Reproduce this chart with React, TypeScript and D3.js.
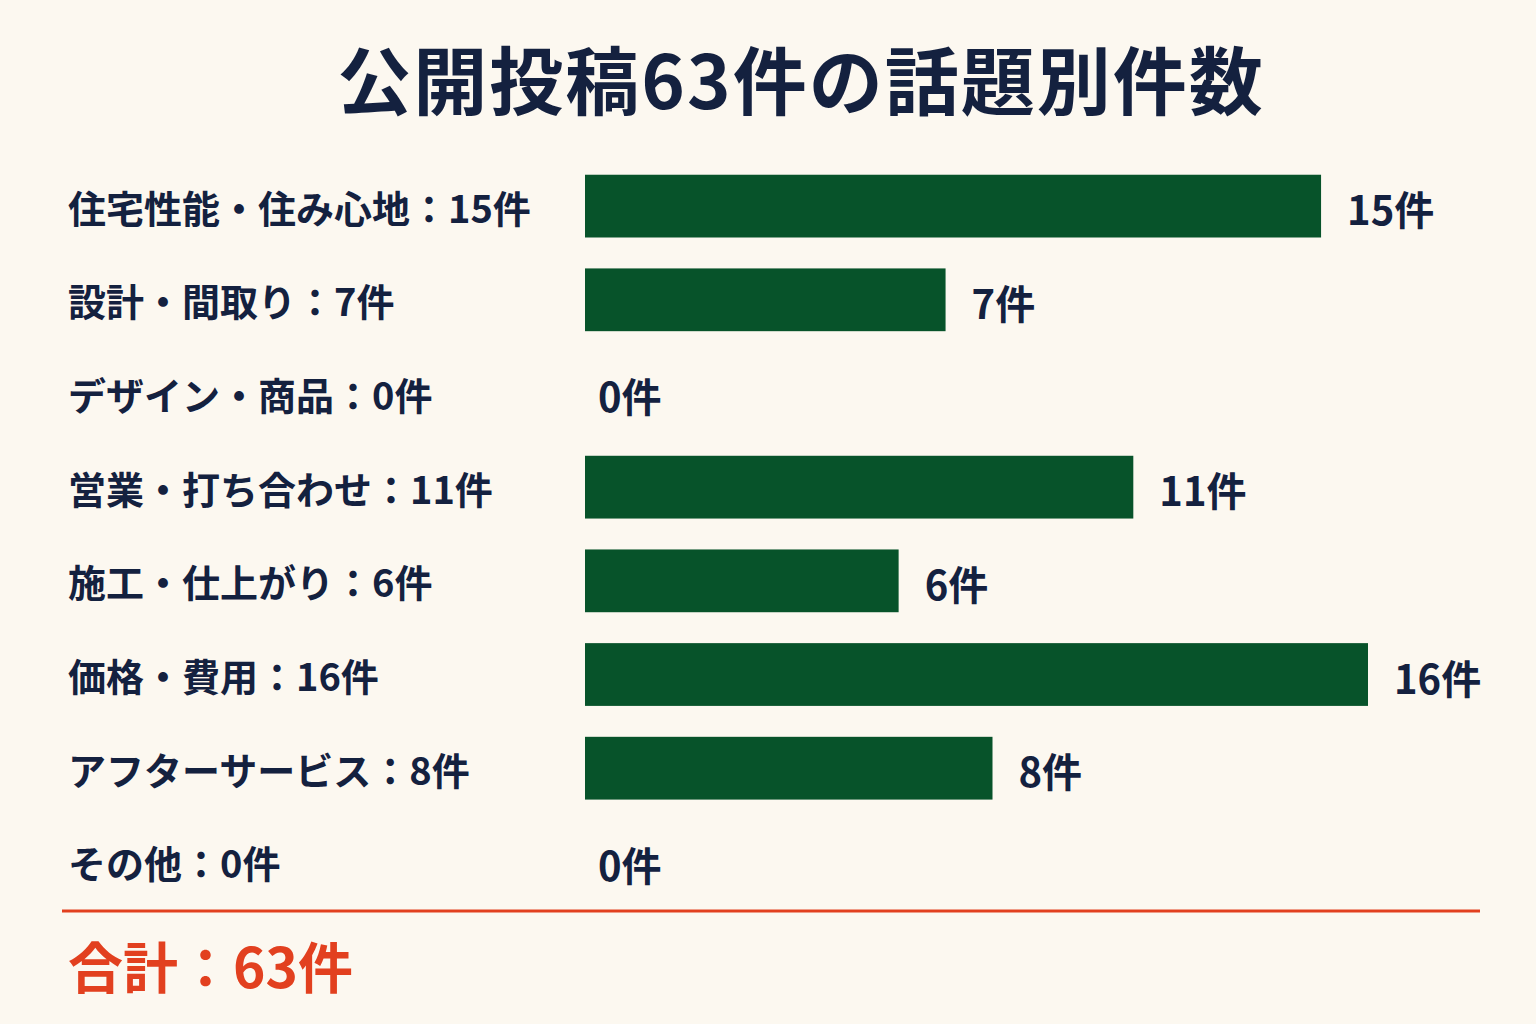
import React from "react";
import * as d3 from "d3";

const categories = [
  "住宅性能・住み心地",
  "設計・間取り",
  "デザイン・商品",
  "営業・打ち合わせ",
  "施工・仕上がり",
  "価格・費用",
  "アフターサービス",
  "その他",
];
const counts = [15, 7, 0, 11, 6, 16, 8, 0];
const titleText = "公開投稿63件の話題別件数";
const totalLabel = "合計：63件";

const W = 1536;
const H = 1024;
const NAVY = "#14213f";
const GREEN = "#07532a";
const RED = "#e2401f";
const BG = "#fcf8f0";
const FONT = "'Noto Sans CJK JP', 'Noto Sans', sans-serif";

export default function App() {
  const y = d3.scaleBand<string>().domain(categories).range([156, 912]).paddingInner(0.33).paddingOuter(0.2);
  const x = d3.scaleLinear().domain([0, 16]).range([32, 783]);
  const x0 = 585;
  return (
    <svg width={W} height={H} style={{ position: "absolute", left: 0, top: 0, background: BG }} fontFamily={FONT}>
      <rect x={0} y={0} width={W} height={H} fill={BG} />
      <text x={801} y={76} textAnchor="middle" dominantBaseline="central" fontSize={74} fontWeight={700} fill={NAVY} letterSpacing={2}>
        {titleText}
      </text>
      {categories.map((c, i) => {
        const v = counts[i];
        const yy = y(c)!;
        const bh = y.bandwidth();
        const cy = yy + bh / 2;
        const bw = v > 0 ? x(v) : 0;
        return (
          <g key={c}>
            <text x={68} y={cy} dominantBaseline="central" fontSize={38} fontWeight={700} fill={NAVY}>
              {`${c}：${v}件`}
            </text>
            {v > 0 && <rect x={x0} y={yy} width={bw} height={bh} fill={GREEN} />}
            <text x={v > 0 ? x0 + bw + 26 : x0 + 13} y={cy + 2} dominantBaseline="central" fontSize={40} fontWeight={700} fill={NAVY}>
              {`${v}件`}
            </text>
          </g>
        );
      })}
      <line x1={62} x2={1480} y1={911} y2={911} stroke={RED} strokeWidth={3} />
      <text x={68} y={964} dominantBaseline="central" fontSize={55} fontWeight={700} fill={RED}>
        {totalLabel}
      </text>
    </svg>
  );
}
